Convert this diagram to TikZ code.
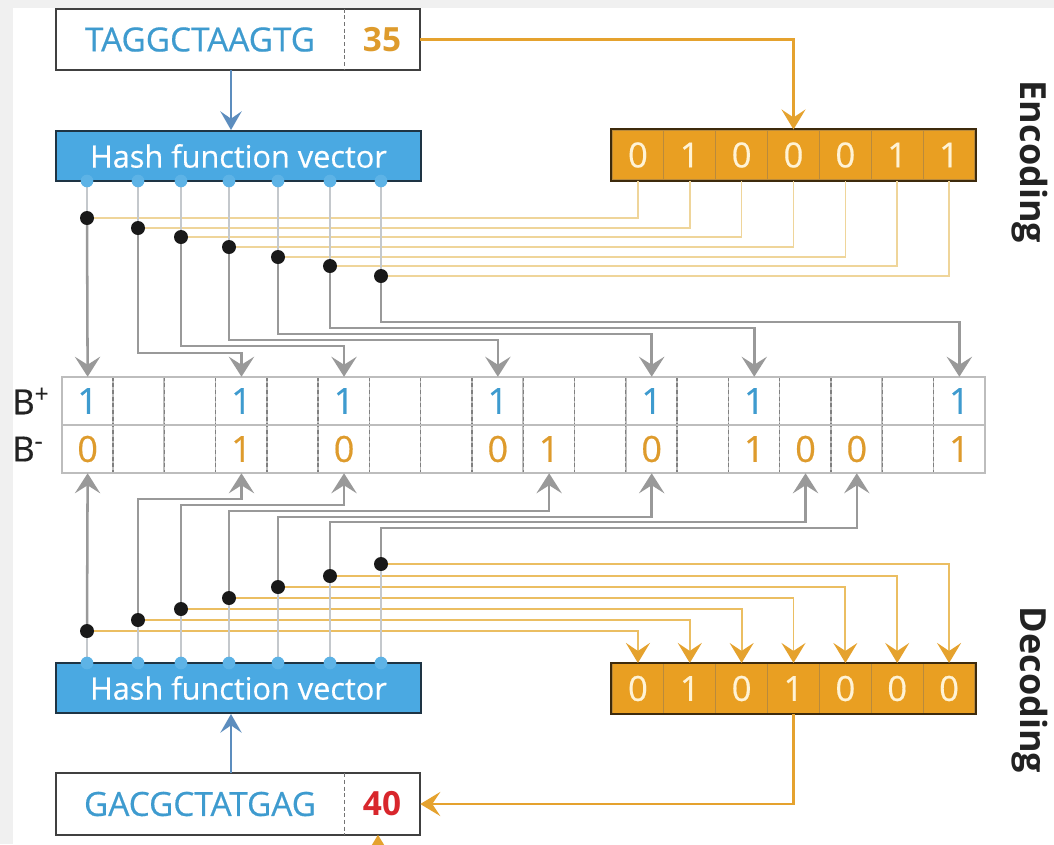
\documentclass[tikz,border=0pt]{standalone}
\usepackage{fontspec}
\setmainfont{Open Sans}
\newfontface\midface[FakeBold=0.5]{Open Sans}
\usetikzlibrary{arrows.meta,calc}
\definecolor{bgray}{HTML}{F0F0F0}
\definecolor{seqblue}{HTML}{3E9BCF}
\definecolor{hashblue}{HTML}{4AA9E2}
\definecolor{hashdark}{HTML}{1E3444}
\definecolor{portblue}{HTML}{5DB3E6}
\definecolor{bitorange}{HTML}{E99F22}
\definecolor{bitdark}{HTML}{3D2A0C}
\definecolor{bitsep}{HTML}{B98A3C}
\definecolor{bittext}{HTML}{FFF3D6}
\definecolor{valorange}{HTML}{DE9B2C}
\definecolor{lineorange}{HTML}{EFD59A}
\definecolor{lineorange2}{HTML}{EBBE62}
\definecolor{arroworange}{HTML}{E5A22E}
\definecolor{conngray}{HTML}{999999}
\definecolor{portline}{HTML}{C4C8CC}
\definecolor{tablegray}{HTML}{BDBDBD}
\definecolor{dashgray}{HTML}{808080}
\definecolor{arrowblue}{HTML}{5C8DBE}
\definecolor{valred}{HTML}{D8262C}
\definecolor{labelblack}{HTML}{222222}
\begin{document}
\begin{tikzpicture}[x=0.75pt,y=-0.75pt,
  seqtext/.style={font=\fontsize{25}{28}\midface, text=seqblue, minimum width=216pt, minimum height=45.75pt, inner sep=0pt},
  valtext/.style={font=\fontsize{25}{28}\selectfont\bfseries, minimum width=57pt, minimum height=45.75pt, inner sep=0pt},
  boxline/.style={draw=black!75, line width=1.5pt},
  divline/.style={draw=black!55, line width=0.8pt, dash pattern=on 3pt off 2pt},
  hashbox/.style={fill=hashblue, draw=hashdark, line width=1.5pt, text=white, font=\fontsize{23}{26}\midface, minimum width=273.75pt, minimum height=37.5pt, inner sep=0pt},
  port/.style={circle, fill=portblue, inner sep=0pt, minimum size=9.5pt},
  bitcell/.style={fill=bitorange, draw=bitsep, line width=0.8pt, text=bittext, font=\fontsize{26}{28}\midface, minimum width=38.89pt, minimum height=37.5pt, inner sep=0pt},
  bitframe/.style={draw=bitdark, line width=1.5pt},
  bcell/.style={minimum width=38.46pt, minimum height=36pt, inner sep=0pt},
  bval/.style={font=\fontsize{27}{28}\midface, inner sep=0pt},
  tabline/.style={draw=tablegray, line width=1.2pt},
  tabdash/.style={draw=dashgray, line width=1pt, dash pattern=on 3pt off 2pt},
  dotnode/.style={circle, fill=black!90, inner sep=0pt, minimum size=10.5pt},
  tip/.style={-{Stealth[length=15pt,width=19pt,inset=6pt]}},
  gconn/.style={draw=conngray, line width=1.9pt, tip},
  portconn/.style={draw=portline, line width=1.1pt},
  encline/.style={draw=lineorange, line width=1.2pt},
  decline/.style={draw=lineorange2, line width=1.4pt, -{Stealth[length=15pt,width=18pt,inset=6pt,color=arroworange]}},
  oarrow/.style={draw=arroworange, line width=2pt, -{Stealth[length=15pt,width=18pt,inset=6pt]}},
  barrow/.style={draw=arrowblue, line width=1.6pt, -{Stealth[length=14pt,width=16pt,inset=5.5pt]}},
  sidelabel/.style={font=\fontsize{27}{30}\selectfont\bfseries, text=labelblack, rotate=-90, inner sep=0pt},
  blabel/.style={font=\fontsize{26}{28}\midface, text=labelblack, inner sep=0pt, anchor=west}
]
\useasboundingbox (0,0) rectangle (1054,844);
\fill[bgray] (0,0) rectangle (1054,844);
\fill[white] (13,8) rectangle (1054,844);

% ---------- top sequence box ----------
\node[seqtext] (seq1) at (200,39.5) {TAGGCTAAGTG};
\node[valtext, text=valorange] (val1) at (382,39.5) {35};
\draw[boxline] (seq1.north west) rectangle (val1.south east);
\draw[divline] (seq1.north east) -- (seq1.south east);

% ---------- bottom sequence box ----------
\node[seqtext] (seq2) at (200,804) {GACGCTATGAG};
\node[valtext, text=valred] (val2) at (382,804) {40};
\draw[boxline] (seq2.north west) rectangle (val2.south east);
\draw[divline] (seq2.north east) -- (seq2.south east);

% ---------- hash boxes ----------
\node[hashbox] (hash1) at (238.5,156) {Hash function vector};
\node[hashbox] (hash2) at (238.5,688) {Hash function vector};

\draw[barrow] ($(seq1.south)+(31,0)$) coordinate (ba) -- (ba |- hash1.north);
\draw[barrow] ($(seq2.north)+(31,0)$) coordinate (bb) -- (bb |- hash2.south);

% ---------- encoding / decoding bits ----------
\foreach \v [count=\j from 0] in {0,1,0,0,0,1,1}
  \node[bitcell] (e\j) at ({612+51.857*(\j+0.5)},155) {\v};
\draw[bitframe] (e0.north west) rectangle (e6.south east);
\foreach \v [count=\j from 0] in {0,1,0,1,0,0,0}
  \node[bitcell] (f\j) at ({612+51.857*(\j+0.5)},688.5) {\v};
\draw[bitframe] (f0.north west) rectangle (f6.south east);

\draw[oarrow] (val1.east) -| (e3.north);
\draw[oarrow] (f3.south) |- (val2.east);
\coordinate (offp) at (378,872);
\draw[oarrow] (offp) -- (offp |- val2.south);

% ---------- B table ----------
\foreach \i in {0,...,17} {
  \node[bcell] (bp\i) at ({62+51.278*(\i+0.5)},401) {};
  \node[bcell] (bm\i) at ({62+51.278*(\i+0.5)},449) {};
}
\foreach \i in {1,...,17} {
  \draw[tabline] (bp\i.north west) -- (bm\i.south west);
  \draw[tabdash] (bp\i.north west) -- (bm\i.south west);
}
\draw[tabline] (bp0.north west) rectangle (bm17.south east);
\draw[tabline] (bp0.south west) -- (bp17.south east);
\foreach \i in {0,3,5,8,11,13,17}
  \node[bval, text=seqblue] (bpv\i) at (bp\i) {1};
\foreach \i/\v in {0/0,3/1,5/0,8/0,9/1,11/0,13/1,14/0,15/0,17/1}
  \node[bval, text=valorange] (bmv\i) at (bm\i) {\v};
\node[blabel] (bplus) at (12,401) {B\textsuperscript{+}};
\node[blabel] (bminus) at (12,449) {B\textsuperscript{-}};

% ---------- encoding connectors ----------
\foreach \i/\x/\y in {1/87/218,2/138/228,3/181/237,4/229/247,5/278/257,6/330/266,7/381/276} {
  \coordinate (pt\i) at (\x,181);
  \coordinate (dt\i) at (\x,\y);
}
\foreach \i [evaluate=\i as \j using int(\i-1)] in {1,...,7}
  \draw[encline] (dt\i) -| (e\j.south);
\foreach \i in {1,...,7}
  \draw[portconn] (pt\i) -- (dt\i);
\draw[gconn] (dt1) -- (bp0.north);
\foreach \i/\x/\lev/\k in {2/138/353/3,3/181/346/5,4/229/340/8,5/278/334/11,6/330/328/13,7/381/322/17} {
  \coordinate (tl\i) at (\x,\lev);
  \draw[gconn] (dt\i) -- (tl\i) -| (bp\k.north);
}
\foreach \i in {1,...,7} {
  \node[port] (pn\i) at (pt\i) {};
  \node[dotnode] (dn\i) at (dt\i) {};
}

% ---------- decoding connectors ----------
\foreach \i/\x/\y in {1/87/631,2/138/620,3/181/609,4/229/598,5/278/587,6/330/576,7/381/564} {
  \coordinate (qt\i) at (\x,663);
  \coordinate (ct\i) at (\x,\y);
}
\foreach \i [evaluate=\i as \j using int(\i-1)] in {1,...,7}
  \draw[decline] (ct\i) -| (f\j.north);
\foreach \i in {1,...,7}
  \draw[portconn] (qt\i) -- (ct\i);
\draw[gconn] (ct1) -- (bm0.south);
\foreach \i/\x/\lev/\k in {2/138/499/3,3/181/505/5,4/229/511/9,5/278/517/11,6/330/522/14,7/381/528/15} {
  \coordinate (bl\i) at (\x,\lev);
  \draw[gconn] (ct\i) -- (bl\i) -| (bm\k.south);
}
\foreach \i in {1,...,7} {
  \node[port] (qn\i) at (qt\i) {};
  \node[dotnode] (cn\i) at (ct\i) {};
}

% ---------- side labels ----------
\node[sidelabel] (enc) at (1030,162) {Encoding};
\node[sidelabel] (dec) at (1030,690) {Decoding};
\end{tikzpicture}
\end{document}
